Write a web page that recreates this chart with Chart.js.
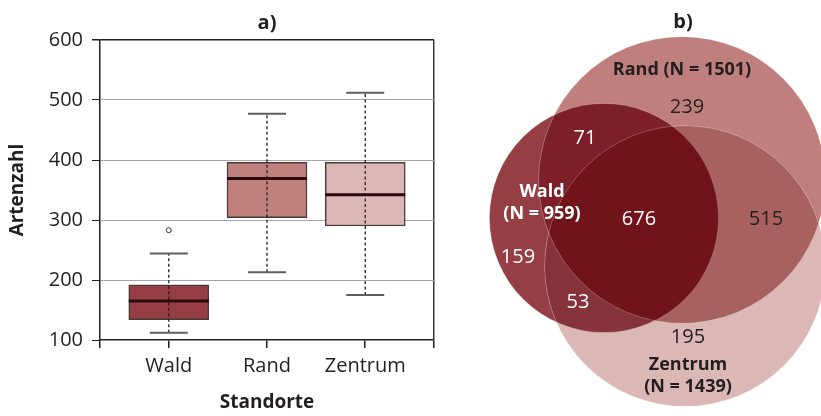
<!DOCTYPE html>
<html>
<head>
<meta charset="utf-8">
<script src="https://cdn.jsdelivr.net/npm/chart.js@4.4.1/dist/chart.umd.min.js"></script>
<style>
  html, body { margin: 0; padding: 0; background: #fff; }
  #wrap { position: relative; width: 821px; height: 416px; overflow: hidden; }
  #boxChart { position: absolute; left: 0; top: 0; }
  #vennChart { position: absolute; left: 470px; top: 0; }
</style>
</head>
<body>
<div id="wrap">
  <canvas id="boxChart" width="470" height="416"></canvas>
  <canvas id="vennChart" width="351" height="416"></canvas>
</div>
<script>
// a) Boxplot: Artenzahl je Standort
var standorte = ['Wald', 'Rand', 'Zentrum'];
var whiskerLow = [112, 213, 175];
var quartil1 = [134, 304, 290];
var median = [165, 369, 342];
var quartil3 = [192, 396, 396];
var whiskerHigh = [244, 477, 512];
var ausreisser = [[283], [], []];
var yTicks = [100, 200, 300, 400, 500, 600];

// b) Venn: Artenzahl je Standort und Überschneidungen
var vennSets = ['Wald', 'Rand', 'Zentrum'];
var vennTotals = [959, 1501, 1439];
var regionSets = [[0], [1], [2], [0, 1], [0, 2], [1, 2], [0, 1, 2]];
var regionCounts = [159, 239, 195, 71, 53, 515, 676];

// layout / styles
var boxColors = ['#963e44', '#c0807c', '#dbb7b5'];
var vennColors = ['#953f45', '#bf7f7c', '#dbb7b5'];
var textDark = '#231f20';
var vennCenterX = [134, 212, 215];
var vennCenterY = [218, 180, 266];
var vennRadiusPerSqrt = 3.7;
var regionLabelX = [48, 217, 218, 115, 108, 296, 169];
var regionLabelY = [257, 107, 337, 138, 302, 219, 219];
var regionLabelColor = ['#fff', textDark, textDark, '#fff', '#fff', textDark, '#fff'];

Chart.defaults.font.family = "'Open Sans', sans-serif";
Chart.defaults.color = textDark;

var outlierPoints = [];
ausreisser.forEach(function(list, i) {
  list.forEach(function(v) { outlierPoints.push({x: i + 1, y: v}); });
});

var boxPlugin = {
  id: 'boxParts',
  afterDatasetsDraw: function(chart) {
    var ctx = chart.ctx;
    var xs = chart.scales.x, ys = chart.scales.y;
    var bars = chart.getDatasetMeta(0).data;
    ctx.save();
    for (var i = 0; i < standorte.length; i++) {
      var px = xs.getPixelForValue(i + 1);
      var half = bars[i].width / 2;
      var yLo = ys.getPixelForValue(whiskerLow[i]);
      var yHi = ys.getPixelForValue(whiskerHigh[i]);
      // gestrichelter Whisker
      ctx.setLineDash([3, 2.5]);
      ctx.lineWidth = 1.3;
      ctx.strokeStyle = textDark;
      ctx.beginPath();
      ctx.moveTo(px, yLo);
      ctx.lineTo(px, yHi);
      ctx.stroke();
      // Querstriche
      ctx.setLineDash([]);
      ctx.lineWidth = 2;
      ctx.strokeStyle = '#5e5e5e';
      ctx.beginPath();
      ctx.moveTo(px - 19, yLo); ctx.lineTo(px + 19, yLo);
      ctx.moveTo(px - 19, yHi); ctx.lineTo(px + 19, yHi);
      ctx.stroke();
      // Median
      var ym = ys.getPixelForValue(median[i]);
      ctx.lineWidth = 3;
      ctx.strokeStyle = '#2b0b0e';
      ctx.beginPath();
      ctx.moveTo(px - half, ym); ctx.lineTo(px + half, ym);
      ctx.stroke();
    }
    ctx.restore();
  }
};

var boxChart = new Chart(document.getElementById('boxChart'), {
  type: 'bar',
  data: {
    datasets: [{
      label: 'Box',
      data: standorte.map(function(s, i) { return {x: i + 1, y: [quartil1[i], quartil3[i]]}; }),
      backgroundColor: boxColors,
      borderColor: '#4a3a3a',
      borderWidth: 1.5,
      borderSkipped: false,
      barThickness: 80
    }, {
      type: 'scatter',
      label: 'Ausreißer',
      data: outlierPoints,
      pointRadius: 2.5,
      pointBackgroundColor: '#fff',
      pointBorderColor: '#333',
      pointBorderWidth: 1
    }]
  },
  options: {
    responsive: false,
    animation: false,
    layout: { padding: { left: 0, right: 36, top: 0, bottom: 0 } },
    plugins: {
      legend: { display: false },
      tooltip: { enabled: false },
      title: {
        display: true, text: 'a)', fullSize: false, color: textDark,
        font: { size: 20, weight: 'bold' }, padding: { top: 11, bottom: 5 }
      }
    },
    scales: {
      x: {
        type: 'linear', min: 0.3, max: 3.7, offset: false,
        afterBuildTicks: function(scale) {
          scale.ticks = [0.3, 1, 2, 3, 3.7].map(function(v) { return {value: v}; });
        },
        afterFit: function(scale) { scale.height = 76; },
        ticks: {
          autoSkip: false, maxRotation: 0, padding: 6, font: { size: 20 },
          callback: function(value) { return Number.isInteger(value) ? standorte[value - 1] : ''; }
        },
        grid: {
          offset: false,
          tickLength: 8,
          color: function(c) { return c.tick && c.tick.value === 3.7 ? '#3a3a3a' : 'rgba(0,0,0,0)'; },
          tickColor: textDark,
          lineWidth: 1.5
        },
        border: { color: textDark, width: 1.5 },
        title: { display: true, text: 'Standorte', font: { size: 19, weight: 'bold' }, padding: { top: 0, bottom: 2 } }
      },
      y: {
        min: 100, max: 600,
        afterBuildTicks: function(scale) {
          scale.ticks = yTicks.map(function(v) { return {value: v}; });
        },
        afterFit: function(scale) { scale.width = 100; },
        ticks: { padding: 9, font: { size: 20 } },
        grid: {
          tickLength: 8,
          color: function(c) {
            if (!c.tick) return '#a6a6a6';
            if (c.tick.value === 600) return textDark;
            if (c.tick.value === 100) return 'rgba(0,0,0,0)';
            return '#a6a6a6';
          },
          tickColor: textDark,
          lineWidth: function(c) { return c.tick && c.tick.value === 600 ? 1.5 : 1; }
        },
        border: { color: textDark, width: 1.5 },
        title: { display: true, text: 'Artenzahl', font: { size: 19, weight: 'bold' }, padding: { top: 6, bottom: 0 } }
      }
    }
  },
  plugins: [boxPlugin]
});

// Überschneidungsfarben
var overlapColors = {
  '1,2': '#a7625f',
  '0,1': '#7c1f28',
  '0,2': '#86323a',
  '0,1,2': '#711419'
};

var vennPlugin = {
  id: 'vennParts',
  afterDatasetsDraw: function(chart) {
    var ctx = chart.ctx;
    var xs = chart.scales.x, ys = chart.scales.y;
    var els = chart.getDatasetMeta(0).data;
    var circ = els.map(function(el, i) {
      return {x: el.x, y: el.y, r: el.options.radius || Math.sqrt(vennTotals[i]) * vennRadiusPerSqrt};
    });
    function arc(c) { ctx.beginPath(); ctx.arc(c.x, c.y, c.r, 0, Math.PI * 2); }
    function paint(clipIdx, target, color) {
      ctx.save();
      clipIdx.forEach(function(k) { arc(circ[k]); ctx.clip(); });
      arc(circ[target]);
      ctx.fillStyle = color;
      ctx.fill();
      ctx.restore();
    }
    paint([1], 2, overlapColors['1,2']);
    paint([0], 1, overlapColors['0,1']);
    paint([0], 2, overlapColors['0,2']);
    paint([0, 1], 2, overlapColors['0,1,2']);

    // feine Kreisränder
    ctx.save();
    ctx.strokeStyle = 'rgba(255,255,255,0.3)';
    ctx.lineWidth = 0.8;
    circ.forEach(function(c) { arc(c); ctx.stroke(); });
    ctx.restore();

    ctx.save();
    ctx.textAlign = 'center';
    ctx.textBaseline = 'middle';
    // Zahlen der Teilmengen
    ctx.font = '20px "Open Sans"';
    regionCounts.forEach(function(n, i) {
      ctx.fillStyle = regionLabelColor[i];
      ctx.fillText(String(n), xs.getPixelForValue(regionLabelX[i]), ys.getPixelForValue(regionLabelY[i]));
    });
    // Mengennamen
    ctx.font = 'bold 18px "Open Sans"';
    ctx.fillStyle = '#fff';
    ctx.fillText(vennSets[0], xs.getPixelForValue(72), ys.getPixelForValue(192));
    ctx.fillText('(N = ' + vennTotals[0] + ')', xs.getPixelForValue(72), ys.getPixelForValue(214));
    ctx.fillStyle = textDark;
    ctx.fillText(vennSets[1] + ' (N = ' + vennTotals[1] + ')', xs.getPixelForValue(212), ys.getPixelForValue(70));
    ctx.fillText(vennSets[2], xs.getPixelForValue(218), ys.getPixelForValue(365));
    ctx.fillText('(N = ' + vennTotals[2] + ')', xs.getPixelForValue(218), ys.getPixelForValue(387));
    // Titel b)
    ctx.font = 'bold 20px "Open Sans"';
    ctx.fillText('b)', xs.getPixelForValue(213), ys.getPixelForValue(22));
    ctx.restore();
  }
};

var vennChart = new Chart(document.getElementById('vennChart'), {
  type: 'bubble',
  data: {
    datasets: [{
      label: 'Standorte',
      data: vennSets.map(function(s, i) {
        return {x: vennCenterX[i], y: vennCenterY[i], r: Math.sqrt(vennTotals[i]) * vennRadiusPerSqrt};
      }),
      backgroundColor: vennColors,
      borderWidth: 0,
      hoverBorderWidth: 0,
      clip: false
    }]
  },
  options: {
    responsive: false,
    animation: false,
    layout: { padding: 0, autoPadding: false },
    plugins: { legend: { display: false }, tooltip: { enabled: false } },
    scales: {
      x: { type: 'linear', min: 0, max: 351, display: false },
      y: { type: 'linear', min: 0, max: 416, reverse: true, display: false }
    }
  },
  plugins: [vennPlugin]
});
</script>
</body>
</html>
